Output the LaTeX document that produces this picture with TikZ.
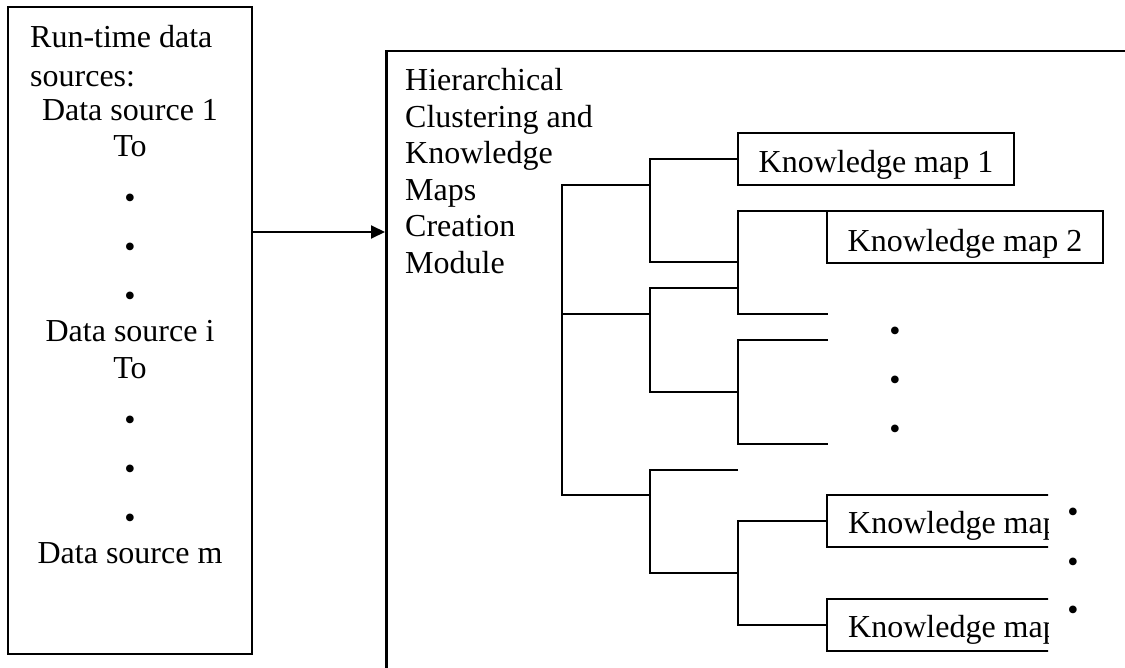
\documentclass[tikz,border=0pt]{standalone}
\usepackage{fontspec}
\setmainfont{Liberation Serif}
\usetikzlibrary{arrows.meta}

\begin{document}
\begin{tikzpicture}[x=1pt,y=-1pt,
    font=\fontsize{32pt}{36.6pt}\selectfont,
    srcbox/.style={draw,line width=2pt,minimum width=244pt,minimum height=647pt,inner sep=0pt},
    modbox/.style={draw,line width=2.5pt,anchor=north west,minimum width=800pt,minimum height=700pt},
    mapbox/.style={draw,line width=2pt,minimum width=276pt,minimum height=52pt,inner sep=0pt,outer sep=0pt,text height=28pt,text depth=0pt},
    txt/.style={inner sep=0pt},
    bul/.style={inner sep=0pt},
    tree/.style={line width=2pt}]
  \useasboundingbox (0,0) rectangle (1125,668);
  \clip (0,0) rectangle (1125,668);

  \node[srcbox] (src) at (130,330.5) {};
  \node[modbox] (mod) at (385,50) {};
  \coordinate (out) at (253,232);
  \draw[line width=2pt,-{Triangle[length=14pt,width=13pt]}] (out) -- (out -| mod.west);

  \node[txt,anchor=base west] (s1) at (30,48) {Run-time data};
  \node[txt,anchor=base west] (s2) at (30,87) {sources:};
  \node[txt,anchor=base] (s3) at (130,121) {Data source 1};
  \node[txt,anchor=base] (s4) at (130,157) {To};
  \node[bul] (d1) at (130,201) {\textbullet};
  \node[bul] (d2) at (130,250) {\textbullet};
  \node[bul] (d3) at (130,299) {\textbullet};
  \node[txt,anchor=base] (s5) at (130,342) {Data source i};
  \node[txt,anchor=base] (s6) at (130,378) {To};
  \node[bul] (d4) at (130,423) {\textbullet};
  \node[bul] (d5) at (130,472) {\textbullet};
  \node[bul] (d6) at (130,521) {\textbullet};
  \node[txt,anchor=base] (s7) at (130,563) {Data source m};

  \node[txt,align=left,anchor=north west] (title) at (405,68)
    {Hierarchical\\Clustering and\\Knowledge\\Maps\\Creation\\Module};

  \node[mapbox] (km1) at (876,159) {Knowledge map 1};
  \node[mapbox] (km2) at (965,237.5) {Knowledge map 2};
  \begin{scope}
    \clip (815,480) rectangle (1048,660);
    \node[mapbox,anchor=west] (km3) at (827,521) {};
    \node[txt,anchor=base west] (km3t) at (848,533) {Knowledge map};
    \node[mapbox,anchor=west] (km4) at (827,625) {};
    \node[txt,anchor=base west] (km4t) at (848,637) {Knowledge map};
  \end{scope}

  \coordinate (root) at (562,314);
  \coordinate (na) at (650,185);
  \coordinate (nb) at (650,314);
  \coordinate (nc) at (650,495);
  \coordinate (na2) at (738,262);
  \coordinate (nb1) at (738,288);
  \coordinate (nb2) at (738,392);
  \coordinate (nc1) at (738,470);
  \coordinate (nc2) at (738,573);
  \coordinate (la) at (828,314);
  \coordinate (lb1) at (828,340);
  \coordinate (lb2) at (828,444);

  \draw[tree] (na) -| (root) |- (nc);
  \draw[tree] (root) -- (nb);
  \draw[tree] (km1.west) -| (na) |- (na2);
  \draw[tree] (km2.north west) -| (na2) |- (la);
  \draw[tree] (nb1) -| (nb) |- (nb2);
  \draw[tree] (lb1) -| (nb2) |- (lb2);
  \draw[tree] (nc1) -| (nc) |- (nc2);
  \draw[tree] (km3.west) -| (nc2) |- (km4.west);

  \node[bul] (m1) at (895,334) {\textbullet};
  \node[bul] (m2) at (895,383) {\textbullet};
  \node[bul] (m3) at (895,432) {\textbullet};
  \node[bul] (r1) at (1073,515) {\textbullet};
  \node[bul] (r2) at (1073,565) {\textbullet};
  \node[bul] (r3) at (1073,613) {\textbullet};
\end{tikzpicture}
\end{document}
